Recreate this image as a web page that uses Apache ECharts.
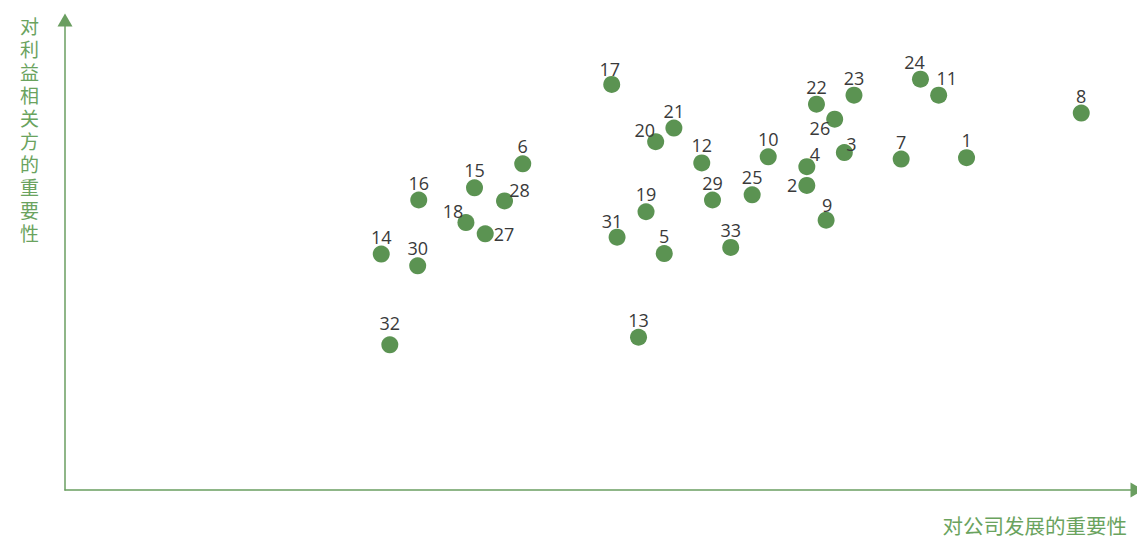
<!DOCTYPE html>
<html>
<head>
<meta charset="utf-8">
<script src="https://cdn.jsdelivr.net/npm/echarts@6/dist/echarts.min.js"></script>
<style>
html,body{margin:0;padding:0;background:#fff;}
#chart{width:1137px;height:538px;}
</style>
</head>
<body>
<div id="chart"></div>
<script>
// Issue ids
const ids = ['1','2','3','4','5','6','7','8','9','10','11','12','13','14','15','16','17','18','19','20','21','22','23','24','25','26','27','28','29','30','31','32','33'];
// Importance to company development (x)
const companyImportance = [8.41,6.92,7.27,6.92,5.59,4.27,7.80,9.48,7.10,6.56,8.15,5.94,5.35,2.95,3.82,3.30,5.10,3.74,5.42,5.51,5.68,7.01,7.36,7.98,6.41,7.18,3.92,4.10,6.04,3.29,5.15,3.03,6.21];
// Importance to stakeholders (y)
const stakeholderImportance = [7.07,6.48,7.18,6.88,5.03,6.94,7.04,8.02,5.74,7.09,8.40,6.96,3.25,5.02,6.43,6.17,8.63,5.69,5.92,7.41,7.70,8.21,8.40,8.74,6.28,7.89,5.45,6.15,6.17,4.77,5.38,3.09,5.16];
const xTitle = '对公司发展的重要性';
const yTitle = '对利益相关方的重要性';

// label placement tweaks (style only)
const labelTweaks = {
  '2': {position:'left', distance:1, offset:[0,0]},
  '18': {position:'top', offset:[-13,6]},
  '27': {position:'right', distance:0, offset:[0,0]},
  '28': {position:'top', offset:[15,7]},
  '26': {position:'left', offset:[4,9]},
  '3': {position:'top', offset:[7,9]},
  '4': {position:'top', offset:[8,5]},
  '20': {position:'top', offset:[-11,6]},
  '11': {position:'top', offset:[8,0]},
  '24': {position:'top', offset:[-6,0]},
  '31': {position:'top', offset:[-5,1]},
  '9': {position:'top', offset:[1,2]},
  '17': {position:'top', offset:[-2,2]},
  '32': {position:'top', offset:[0,-4]}
};

const green = '#5b9352';
const axisGreen = '#6a9e60';
const titleGreen = '#6aa35e';

const data = ids.map((id, i) => {
  const item = {name: id, value: [companyImportance[i], stakeholderImportance[i]]};
  const t = labelTweaks[id];
  if (t) item.label = Object.assign({}, t);
  return item;
});

const chart = echarts.init(document.getElementById('chart'), null, {renderer: 'svg'});
chart.setOption({
  animation: false,
  backgroundColor: '#ffffff',
  grid: {left: 65, right: 0, top: 20, bottom: 48},
  xAxis: {
    type: 'value', min: 0, max: 10,
    axisLine: {show: true, lineStyle: {color: axisGreen, width: 1.5}, symbol: ['none', 'triangle'], symbolSize: [15, 13]},
    axisTick: {show: false}, axisLabel: {show: false}, splitLine: {show: false}
  },
  yAxis: {
    type: 'value', min: 0, max: 10,
    axisLine: {show: true, lineStyle: {color: axisGreen, width: 1.5}, symbol: ['none', 'triangle'], symbolSize: [15, 13]},
    axisTick: {show: false}, axisLabel: {show: false}, splitLine: {show: false}
  },
  graphic: [
    {type: 'text', left: 20, top: 14, style: {text: yTitle.split('').join('\n'), fontSize: 19, lineHeight: 23, fill: titleGreen, fontFamily: 'Noto Sans CJK SC'}},
    {type: 'text', right: 10, top: 514, style: {text: xTitle, fontSize: 20.5, lineHeight: 21, fill: titleGreen, fontFamily: 'Noto Sans CJK SC'}}
  ],
  series: [{
    type: 'scatter',
    symbolSize: 17,
    itemStyle: {color: green, opacity: 1},
    label: {show: true, position: 'top', distance: 0, formatter: '{b}', color: '#3a3a3a', fontSize: 18, fontFamily: 'Open Sans'},
    data: data
  }]
});
</script>
</body>
</html>
